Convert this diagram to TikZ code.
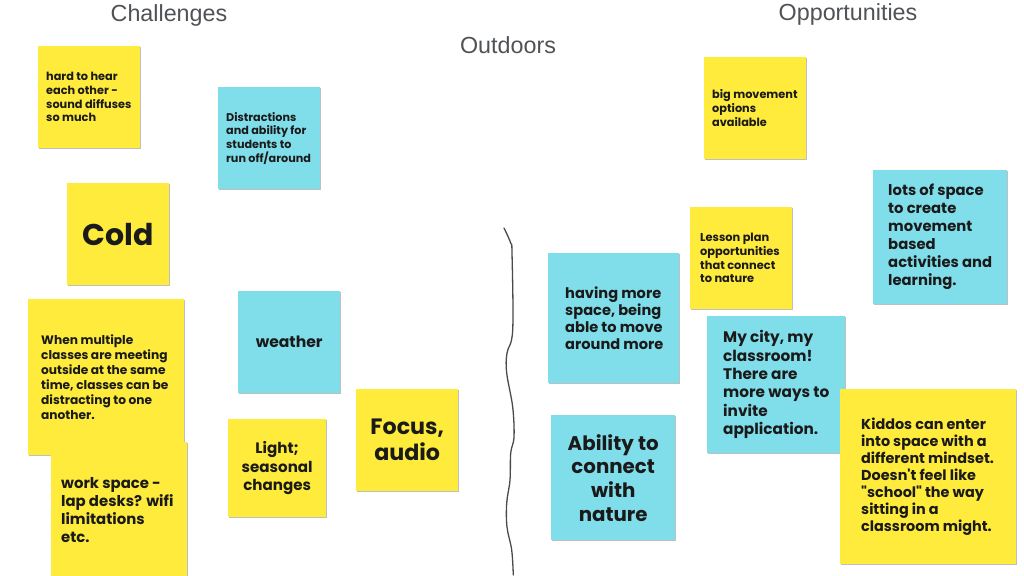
\documentclass[tikz,border=0pt]{standalone}
\usepackage{fontspec}
\setmainfont{Poppins}[Ligatures=TeXOff]
\newfontfamily\hdr{Liberation Sans}
\usetikzlibrary{shadows,calc}
\definecolor{yel}{HTML}{FFEB3B}
\definecolor{cya}{HTML}{80DEEA}
\definecolor{ink}{HTML}{1A1A1A}
\definecolor{hdrc}{HTML}{4F5256}
\definecolor{curve}{HTML}{4A4A4A}
\tikzset{
  note/.style={rectangle, draw=none, inner sep=0pt, anchor=north west,
    drop shadow={shadow xshift=0.6pt, shadow yshift=-1.2pt, opacity=0.25, fill=black}},
  ynote/.style={note, fill=yel},
  cnote/.style={note, fill=cya},
  ltxt/.style={anchor=west, align=left, inner sep=0pt, text=ink},
  ctxt/.style={anchor=center, align=center, inner sep=0pt, text=ink},
  header/.style={font=\hdr\fontsize{23.3}{26}\selectfont, text=hdrc, inner sep=0pt}
}
\newcommand{\fs}[2]{\fontsize{#1}{#2}\selectfont\bfseries}
\begin{document}
\begin{tikzpicture}[x=1pt,y=-1pt]
\useasboundingbox (0,0) rectangle (1024,575);
\fill[white] (0,0) rectangle (1024,575);
% headers
\node[header] (hch) at (169,15) {Challenges};
\node[header] (hop) at (848,14) {Opportunities};
\node[header] (hout) at (508,45) {Outdoors};
% challenges
\node[ynote, minimum width=102, minimum height=102] (n1) at (38,46) {};
\node[ltxt, font=\fs{11.3}{13.6}] (t1) at ($(n1.west)+(8,0)$) {hard to hear\\each other -\\sound diffuses\\so much};
\node[cnote, minimum width=102, minimum height=102] (n2) at (218,87) {};
\node[ltxt, font=\fs{11.2}{13.6}] (t2) at ($(n2.west)+(8,0)$) {Distractions\\and ability for\\students to\\run off/around};
\node[ynote, minimum width=102, minimum height=102] (n3) at (67,183) {};
\node[ctxt, font=\fs{30}{32}] (t3) at (n3.center) {Cold};
\node[ynote, minimum width=156, minimum height=156] (n4) at (28,299) {};
\node[ltxt, font=\fs{12.2}{15}] (t4) at ($(n4.west)+(13,0)$) {When multiple\\classes are meeting\\outside at the same\\time, classes can be\\distracting to one\\another.};
\node[ynote, minimum width=136, minimum height=136] (n5) at (51,442) {};
\node[ltxt, font=\fs{14.9}{18}] (t5) at ($(n5.west)+(10,0)$) {work space -\\lap desks? wifi\\limitations\\etc.};
\node[cnote, minimum width=102, minimum height=102] (n6) at (238,291) {};
\node[ctxt, font=\fs{15.6}{18}] (t6) at (n6.center) {weather};
\node[ynote, minimum width=98, minimum height=98] (n7) at (228,419) {};
\node[ctxt, font=\fs{15.1}{18.5}] (t7) at (n7.center) {Light;\\seasonal\\changes};
\node[ynote, minimum width=102, minimum height=102] (n8) at (356,389) {};
\node[ctxt, font=\fs{22.2}{26}] (t8) at (n8.center) {Focus,\\audio};
% divider
\draw[curve, line width=1.3pt, line cap=round, line join=round]
  plot[smooth, tension=0.6] coordinates {(504,228) (510.7,243) (512,253) (512.7,330) (507,353) (506.7,373) (512.7,407) (514,437) (510.7,453) (510,480) (506.7,503) (507,527) (511.7,550) (513.3,575)};
% opportunities
\node[cnote, minimum width=131, minimum height=130] (n9) at (548,253) {};
\node[ltxt, font=\fs{14.6}{17}] (t9) at ($(n9.west)+(17,0)$) {having more\\space, being\\able to move\\around more};
\node[cnote, minimum width=124, minimum height=125] (n10) at (551,415) {};
\node[ctxt, font=\fs{19.8}{23.7}] (t10) at (n10.center) {Ability to\\connect\\with\\nature};
\node[ynote, minimum width=102, minimum height=102] (n11) at (690,207) {};
\node[ltxt, font=\fs{11.4}{13.6}] (t11) at ($(n11.west)+(10,0)$) {Lesson plan\\opportunities\\that connect\\to nature};
\node[cnote, minimum width=138, minimum height=137] (n12) at (707,316) {};
\node[ltxt, font=\fs{15.3}{18.4}] (t12) at ($(n12.west)+(16,0)$) {My city, my\\classroom!\\There are\\more ways to\\invite\\application.};
\node[ynote, minimum width=102, minimum height=102] (n13) at (704,57) {};
\node[ltxt, font=\fs{11.3}{14}] (t13) at ($(n13.west)+(8,0)$) {big movement\\options\\available};
\node[cnote, minimum width=134, minimum height=134] (n14) at (873,170) {};
\node[ltxt, font=\fs{14.8}{18}] (t14) at ($(n14.west)+(15,0)$) {lots of space\\to create\\movement\\based\\activities and\\learning.};
\node[ynote, minimum width=176, minimum height=175] (n15) at (840,389) {};
\node[ltxt, font=\fs{14.4}{17}] (t15) at ($(n15.west)+(21,0)$) {Kiddos can enter\\into space with a\\different mindset.\\Doesn't feel like\\"school" the way\\sitting in a\\classroom might.};
\end{tikzpicture}
\end{document}
